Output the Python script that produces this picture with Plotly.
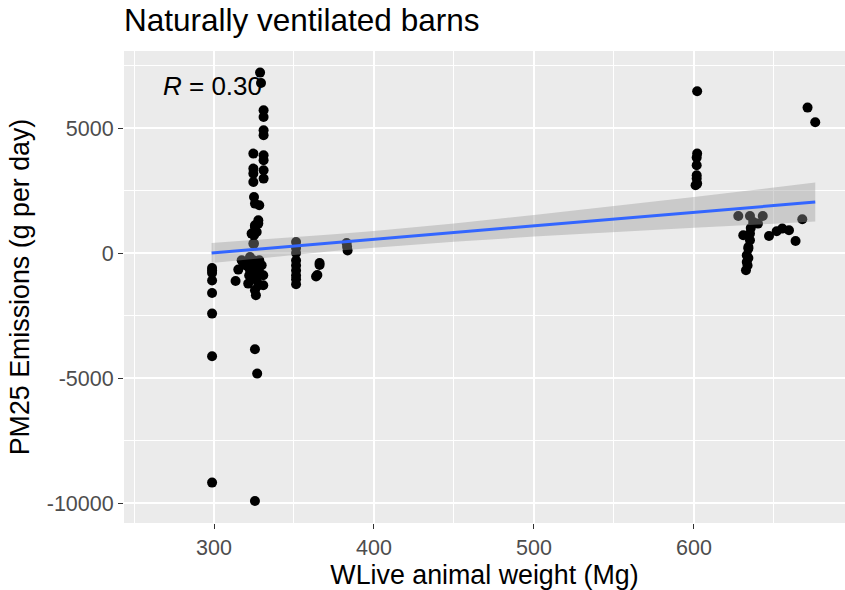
import plotly.graph_objects as go

# ---------------- data ----------------
weight_mg = [
    # column near 299
    298.8, 298.8, 298.8, 298.8, 298.8, 298.8, 298.8, 298.8,
    # tall column ~325
    324.6, 324.6, 324.6, 324.6, 325.0, 325.6, 325.6, 326.7, 325.0, 325.0,
    # tall column ~331
    331.0, 331.0, 331.0, 331.0, 331.0, 331.0, 331.0, 331.0,
    # top points
    328.8, 329.4,
    # middle of the columns
    328.3, 327.7, 323.5, 325.6, 327.7, 324.6,
    # dense cluster below the line
    313.5, 315.2, 317.3, 318.0, 320.0, 321.4, 322.5, 322.5, 323.5, 324.0,
    325.6, 325.6, 326.2, 326.7, 326.7, 328.3, 329.8, 330.8, 330.8, 325.0,
    327.0, 320.0, 324.6, 328.0, 322.0, 327.7,
    # outliers ~326
    325.6, 327.0, 325.6,
    # column ~351
    351.3, 351.3, 351.3, 351.3, 351.3, 351.3, 351.3, 351.3, 351.3,
    # points ~365
    366.0, 366.0, 364.6, 363.8,
    # points ~383
    382.9, 383.2, 383.5,
    # column ~602
    602.0, 602.0, 601.7, 601.7, 601.7, 601.7, 602.0, 601.0,
    # right outliers
    671.0, 675.8,
    # cluster 627-668
    627.7, 635.0, 643.0, 637.0, 640.0, 630.8, 635.0, 635.0, 634.0, 634.0,
    633.0, 633.0, 632.5, 634.0, 633.5, 635.5,
    646.9, 651.7, 655.2, 659.4, 663.5, 667.7,
]
pm25_emission = [
    -600, -800, -1100, -1600, -2424, -4132, -9184, -700,
    3976, 3376, 3176, 2840, 2240, 1976, 1108, 840, 708, 376,
    5708, 5440, 4908, 4708, 3908, 3708, 3308, 2976,
    7216, 6800,
    1908, 1308, 776, 1040, 1176, 376,
    -1120, -664, -292, -360, -500, -1224, -692, -160, -560, -400,
    -824, -1492, -1692, -1092, -960, -292, -492, -892, -1292, -300,
    -600, -400, -1000, -700, -900, -1300,
    -3852, -4824, -9920,
    440, 200, 0, -300, -500, -700, -900, -1050, -1250,
    -400, -480, -880, -940,
    400, 250, 100,
    6468, 3976, 3816, 3508, 3108, 2976, 2776, 2708,
    5816, 5228,
    1480, 1480, 1480, 1240, 1176, 708, 776, 508, 240, 176,
    -92, -360, -692, -200, -500, 1000,
    680, 868, 976, 908, 480, 1348,
]

# linear fit and its 95% band
fit_x = [298.5, 325, 350, 375, 400, 450, 500, 550, 600, 650, 675.8]
fit_y = [0, 143, 278, 413, 548, 818, 1088, 1358, 1628, 1898, 2037]
fit_half = [401, 369, 348, 336, 336, 367, 432, 518, 617, 723, 779]

x_tick_vals = [300, 400, 500, 600]
x_tick_text = ["300", "400", "500", "600"]
y_tick_vals = [-10000, -5000, 0, 5000]
y_tick_text = ["-10000", "-5000", "0", "5000"]

r_label = "<i>R</i> = 0.30"
r_pos = (266.9, 6688)

# ---------------- figure ----------------
FONT = "Liberation Sans, Arial, sans-serif"
fig = go.Figure()

fig.add_trace(go.Scatter(
    x=weight_mg, y=pm25_emission, mode="markers",
    marker=dict(color="black", size=10, line=dict(width=0)),
    hoverinfo="skip", showlegend=False,
))
fit_hi = [m + h for m, h in zip(fit_y, fit_half)]
fit_lo = [m - h for m, h in zip(fit_y, fit_half)]
fig.add_trace(go.Scatter(
    x=fit_x, y=fit_hi, mode="lines", line=dict(width=0),
    hoverinfo="skip", showlegend=False,
))
fig.add_trace(go.Scatter(
    x=fit_x, y=fit_lo, mode="lines", line=dict(width=0),
    fill="tonexty", fillcolor="rgba(153,153,153,0.4)",
    hoverinfo="skip", showlegend=False,
))
fig.add_trace(go.Scatter(
    x=fit_x, y=fit_y, mode="lines", line=dict(color="#3366FF", width=3),
    hoverinfo="skip", showlegend=False,
))

fig.add_annotation(
    x=r_pos[0], y=r_pos[1], text=r_label, showarrow=False,
    xanchor="left", yanchor="middle",
    font=dict(family=FONT, size=26, color="black"),
)

axis_common = dict(
    showline=False, zeroline=False, automargin=False,
    showgrid=True, gridcolor="white", gridwidth=2,
    ticks="outside", ticklen=5, tickwidth=1, tickcolor="#333333",
    tickfont=dict(family=FONT, size=21.5, color="#4D4D4D"),
)

fig.update_layout(
    width=845, height=590,
    margin=dict(l=124, r=0, t=51, b=67, autoexpand=False),
    paper_bgcolor="white", plot_bgcolor="#EBEBEB",
    title=dict(
        text="Naturally ventilated barns",
        font=dict(family=FONT, size=31.5, color="black"),
        x=0, xref="paper", xanchor="left",
        y=1 - 20 / 590, yref="container", yanchor="middle",
        automargin=False,
    ),
    xaxis=dict(
        range=[243.75, 694.4],
        tickmode="array", tickvals=x_tick_vals, ticktext=x_tick_text,
        minor=dict(dtick=50, tick0=0, showgrid=True, gridcolor="white", gridwidth=1),
        title=dict(text="WLive animal weight (Mg)",
                   font=dict(family=FONT, size=26.8, color="black"), standoff=8),
        **axis_common,
    ),
    yaxis=dict(
        range=[-10800, 8080],
        tickmode="array", tickvals=y_tick_vals, ticktext=y_tick_text,
        minor=dict(dtick=2500, tick0=0, showgrid=True, gridcolor="white", gridwidth=1),
        title=dict(text="PM25 Emissions (g per day)",
                   font=dict(family=FONT, size=26.8, color="black"), standoff=9),
        **axis_common,
    ),
)

fig.write_html(
    "out.html",
    config={"displayModeBar": False},
    post_script="document.body.style.margin='0';document.body.style.padding='0';",
)
